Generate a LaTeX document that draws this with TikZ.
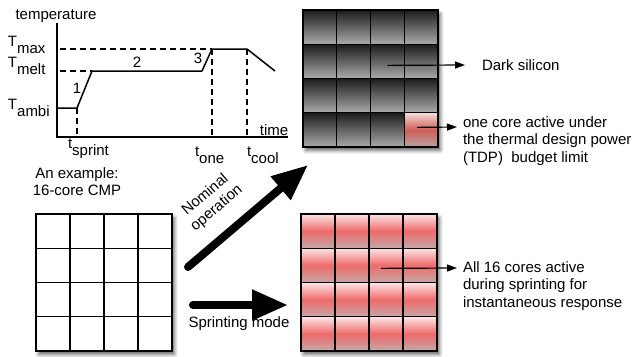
\documentclass[tikz,border=0pt]{standalone}
\usepackage{fontspec}
\setmainfont{Liberation Sans}
\usetikzlibrary{arrows.meta,shadows.blur}

\definecolor{darktop}{HTML}{1C1C1C}
\definecolor{darkbot}{HTML}{ABABAB}
\definecolor{hottop}{HTML}{FCE6E6}
\definecolor{hotmid}{HTML}{EE6A6A}
\definecolor{hotbot}{HTML}{C6A8A8}
\definecolor{onetop}{HTML}{F4DEDC}
\definecolor{onemid}{HTML}{CF5E54}
\definecolor{onebot}{HTML}{BBA2A2}

% text with a lowered, full-size subscript
\newcommand\lowsub[2]{#1\raisebox{-7pt}{#2}}

\begin{document}
\begin{tikzpicture}[x=1pt,y=-1pt,
  font=\fontsize{15}{17.5}\selectfont,
  axis/.style={line width=1.5pt},
  curve/.style={line width=1.5pt},
  guide/.style={line width=1.3pt, dash pattern=on 6pt off 4pt},
  lbl/.style={inner sep=0pt, outer sep=0pt},
  chip/.style={draw, line width=1.3pt, fill=white, inner sep=0pt, outer sep=0pt,
    blur shadow={shadow xshift=2.5pt, shadow yshift=-3.5pt,
      shadow blur radius=3.5pt, shadow opacity=60}},
  cell/.style={draw, line width=1.3pt, inner sep=0pt, outer sep=0pt,
    minimum width=#1, minimum height=34.25pt},
  plaincell/.style={cell=34pt, fill=white},
  darkcell/.style={cell=33.75pt, top color=darktop, bottom color=darkbot},
  hotcell/.style={cell=34pt, top color=hottop, bottom color=hotbot, middle color=hotmid},
  onecell/.style={cell=33.75pt, top color=onetop, bottom color=onebot, middle color=onemid},
  pointer/.style={line width=1.2pt, -{Triangle[length=10pt,width=7pt]}},
  bigarrow/.style={line width=8pt, line cap=round, -{Triangle[length=36pt,width=29pt]}},
]
\useasboundingbox (0,0) rectangle (636,356);

% ---------------- temperature profile ----------------
\node[lbl] (ylabel) at (56,16) {temperature};
\node[lbl] (xlabel) at (274,130) {time};
\draw[axis] (57,23) -- (57,137) -- (288,137);

\draw[guide] (60,49) -- (212,49);
\draw[guide] (60,71) -- (92,71);
\draw[guide] (77,108) -- (77,137);
\draw[guide] (212,49) -- (212,137);
\draw[guide] (247,49) -- (247,137);

\draw[curve, line join=round] (57,108) -- (77,108) -- (92,71) -- (202,71)
  -- (212,49) -- (247,49) -- (275,71);

\node[lbl, anchor=base west] (tmax)  at (8,46)  {\lowsub{T}{max}};
\node[lbl, anchor=base west] (tmelt) at (8,67)  {\lowsub{T}{melt}};
\node[lbl, anchor=base west] (tambi) at (8,109) {\lowsub{T}{ambi}};

\node[lbl, anchor=base west] (tsprint) at (68,148)  {\lowsub{t}{sprint}};
\node[lbl, anchor=base west] (tone)    at (195,156) {\lowsub{t}{one}};
\node[lbl, anchor=base west] (tcool)   at (247,156) {\lowsub{t}{cool}};

\node[lbl] (ph1) at (77,88) {1};
\node[lbl] (ph2) at (137,62) {2};
\node[lbl] (ph3) at (198,58) {3};

\node[lbl, align=center] (example) at (77,181.5) {An example:\\16-core CMP};

% ---------------- idle 16-core chip ----------------
\node[chip, minimum width=136pt, minimum height=137pt] (idle) at (104,282.5) {};
\foreach \r in {0,...,3}
  \foreach \c in {0,...,3}
    \node[plaincell] (i-\r-\c) at (36+17+\c*34, 214+17.125+\r*34.25) {};

% ---------------- nominal operation: dark silicon ----------------
\node[chip, minimum width=135pt, minimum height=137pt] (dark) at (370.5,78.5) {};
\foreach \r in {0,...,3}
  \foreach \c in {0,...,3}
    \node[darkcell] (d-\r-\c) at (303+16.875+\c*33.75, 10+17.125+\r*34.25) {};
\node[onecell] (d-3-3) at (303+16.875+3*33.75, 10+17.125+3*34.25) {};

% ---------------- sprinting: all cores active ----------------
\node[chip, minimum width=136pt, minimum height=137pt] (hot) at (369,282.5) {};
\foreach \r in {0,...,3}
  \foreach \c in {0,...,3}
    \node[hotcell] (h-\r-\c) at (301+17+\c*34, 214+17.125+\r*34.25) {};

% ---------------- annotations ----------------
\node[lbl, anchor=west] (darktext) at (482,65) {Dark silicon};
\node[lbl, anchor=north west, align=left] (tdptext) at (463,116.5)
  {one core active under\\the thermal design power\\(TDP)\ \ budget limit};
\node[lbl, anchor=north west, align=left] (sprinttext) at (463,261.5)
  {All 16 cores active\\during sprinting for\\instantaneous response};

\coordinate (darksrc) at ([yshift=-4pt]d-1-2.center);
\coordinate (darkdst) at ([xshift=-17pt]darktext.west);
\draw[pointer] (darksrc) -- (darkdst);

\coordinate (onesrc) at ([xshift=-4pt,yshift=2.5pt]d-3-3.center);
\draw[pointer] (onesrc) -- (457,127);

\coordinate (hotsrc) at ([xshift=-5pt,yshift=-3pt]h-1-2.center);
\draw[pointer] (hotsrc) -- (457,268);

% ---------------- mode arrows ----------------
\coordinate (nomtail) at (188,267);
\coordinate (nomtip)  at (308,165);
\draw[bigarrow] (nomtail) -- (nomtip);
\path (nomtail) -- (nomtip)
  node[lbl, align=center, sloped, pos=0.38, above=19pt] (nomtext) {Nominal\\operation};

\coordinate (sprtail) at (193,305);
\coordinate (sprtip)  at (288,305);
\draw[bigarrow] (sprtail) -- (sprtip);
\node[lbl] (sprtext) at (239,324) {Sprinting mode};
\end{tikzpicture}
\end{document}
